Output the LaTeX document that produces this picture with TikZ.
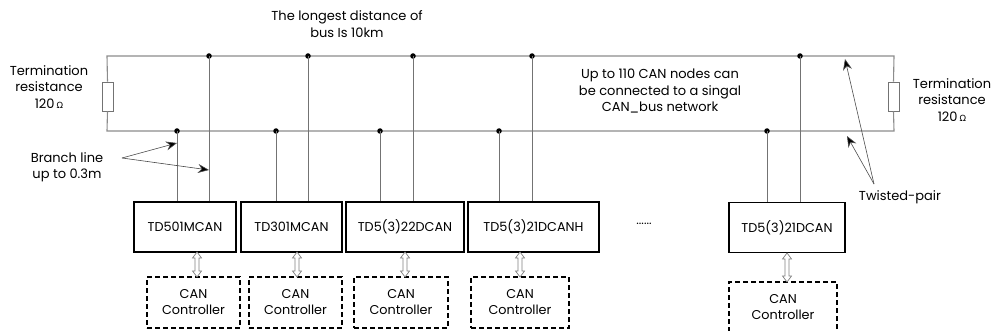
\documentclass[tikz,border=0pt]{standalone}
\usepackage{fontspec}
\setmainfont{Poppins}
\newfontfamily\dejavu{DejaVu Sans}
\usetikzlibrary{arrows.meta}
\tikzset{
  bus/.style={draw=black!45, line width=1.1pt},
  drop/.style={draw=black!55, line width=0.8pt},
  dev/.style={draw=black, line width=1.2pt, minimum height=50pt, inner sep=0pt, font=\fontsize{12.8}{14}\selectfont},
  ctl/.style={draw=black, line width=1.3pt, dash pattern=on 5pt off 3pt, minimum height=51pt, inner sep=0pt, align=center, font=\fontsize{12.8}{16}\selectfont},
  lbl/.style={align=center, inner sep=0pt, font=\fontsize{13}{16.5}\selectfont},
  res/.style={draw=black!55, fill=white, line width=0.8pt, minimum width=11pt, minimum height=29pt, inner sep=0pt},
  dot/.style={circle, fill=black, inner sep=0pt, minimum size=5.5pt},
  pointer/.style={draw=black!70, line width=0.6pt, -{Stealth[length=11pt, width=9pt, fill=black]}},
  hollow/.style={draw=black!50, fill=white, line width=0.7pt}
}
\newcommand{\hollowarr}[3]{% x, y1 (top), y2 (bottom)
  \draw[hollow] (#1,#2) -- (#1+4.5,#2+6) -- (#1+2,#2+6) -- (#1+2,#3-6) -- (#1+4.5,#3-6)
    -- (#1,#3) -- (#1-4.5,#3-6) -- (#1-2,#3-6) -- (#1-2,#2+6) -- (#1-4.5,#2+6) -- cycle;}
\newcommand{\ohm}{{\dejavu\fontsize{8.5}{8.5}\selectfont Ω}}
\begin{document}
\begin{tikzpicture}[x=1pt, y=-1pt]
\useasboundingbox (0,0) rectangle (993,331);
% bus corners
\coordinate (tl) at (107,56);
\coordinate (tr) at (894,56);
\coordinate (bl) at (107,131);
\coordinate (br) at (894,131);
\node[res] (rl) at (107.5,96.5) {};
\node[res] (rr) at (893.5,96.5) {};
\draw[bus] (rl.north) -- (tl) -- (tr) -- (rr.north);
\draw[bus] (rr.south) -- (br) -- (bl) -- (rl.south);
% devices
\node[dev, minimum width=102pt] (d1) at (185,227) {TD501MCAN};
\node[dev, minimum width=101pt] (d2) at (291.5,227) {TD301MCAN};
\node[dev, minimum width=118pt] (d3) at (405,227) {TD5(3)22DCAN};
\node[dev, minimum width=131pt] (d4) at (533.5,227) {TD5(3)21DCANH};
\node[dev, minimum width=116pt] (d5) at (787,227.5) {TD5(3)21DCAN};
\node[inner sep=0pt, font=\fontsize{12}{14}\selectfont] (dots) at (644,224) {......};
% controllers
\node[ctl, minimum width=93pt] (c1) at (193.5,302.5) {CAN\\Controller};
\node[ctl, minimum width=93pt] (c2) at (295.5,302.5) {CAN\\Controller};
\node[ctl, minimum width=94pt] (c3) at (401,302.5) {CAN\\Controller};
\node[ctl, minimum width=98pt] (c4) at (520,302.5) {CAN\\Controller};
\node[ctl, minimum width=108pt] (c5) at (783,307.5) {CAN\\Controller};
% taps
\foreach \n/\xb/\xt in {1/177/209, 2/276/308, 3/380/413, 4/499/532, 5/767/800}{
  \node[dot] (bd\n) at (\xb,131) {};
  \node[dot] (td\n) at (\xt,56) {};
  \draw[drop] (bd\n.center) -- (bd\n.center |- d\n.north);
  \draw[drop] (td\n.center) -- (td\n.center |- d\n.north);
}
% hollow double arrows
\hollowarr{197}{252}{277}
\hollowarr{297}{252}{277}
\hollowarr{405}{252}{277}
\hollowarr{520}{252}{277}
\hollowarr{787}{253}{282}
% labels
\node[lbl] (tlab) at (347,24) {The longest distance of\\bus Is 10km};
\node[lbl] (ulab) at (660,91) {Up to 110 CAN nodes can\\be connected to a singal\\CAN\_bus network};
\node[lbl] (rlL) at (49,87) {Termination\\resistance\\120\,\ohm};
\node[lbl] (rlR) at (952,100) {Termination\\resistance\\120\,\ohm};
\node[lbl] (brl) at (67,167) {Branch line\\up to 0.3m};
\node[lbl] (twl) at (900,197) {Twisted-pair};
% pointers
\coordinate (bs) at (122,158);
\coordinate (bt1) at (177,143);
\coordinate (bt2) at (209,170);
\draw[pointer] (bs) -- (bt1);
\draw[pointer] (bs) -- (bt2);
\coordinate (ts) at (874,184);
\coordinate (tt1) at (847,136);
\coordinate (tt2) at (845,59);
\draw[pointer] (ts) -- (tt1);
\draw[pointer] (ts) -- (tt2);
\end{tikzpicture}
\end{document}
